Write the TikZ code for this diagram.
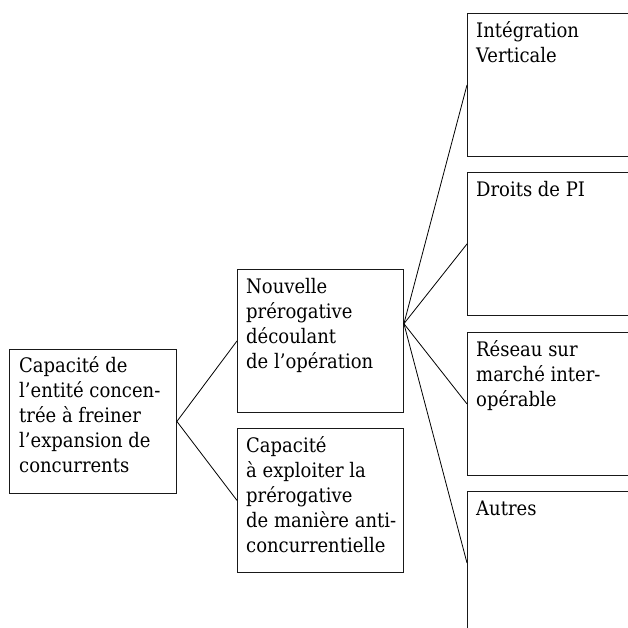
\documentclass[tikz,border=0pt]{standalone}
\usepackage{fontspec}
\setmainfont{DejaVu Serif Condensed}
\usetikzlibrary{calc}
\tikzset{
  box/.style={draw=black!90, line width=0.9pt, rectangle, inner sep=0pt, anchor=north west},
  label/.style={anchor=north west, inner sep=0pt, align=left,
    font=\fontsize{20}{25}\selectfont},
  link/.style={line width=0.8pt, black},
}
\newcommand{\firstline}{\rule{0pt}{18pt}}
\begin{document}
\begin{tikzpicture}[x=1pt,y=-1pt]
  \useasboundingbox (0,0) rectangle (628,628);
  \clip (0,0) rectangle (628,628);
  % boxes
  \node[box, minimum width=167pt, minimum height=144pt] (root) at (9,349) {};
  \node[box, minimum width=166pt, minimum height=143pt] (mtop) at (237,269) {};
  \node[box, minimum width=166pt, minimum height=144pt] (mbot) at (237,428) {};
  \node[box, minimum width=180pt, minimum height=143pt] (r1) at (467,13) {};
  \node[box, minimum width=180pt, minimum height=143pt] (r2) at (467,172) {};
  \node[box, minimum width=180pt, minimum height=143pt] (r3) at (467,332) {};
  \node[box, minimum width=180pt, minimum height=143pt] (r4) at (467,491) {};
  % texts
  \node[label] (troot) at ($(root.north west)+(10,5)$) {\firstline Capacité de\\l’entité concen-\\trée à freiner\\l’expansion de\\concurrents};
  \node[label] (tmtop) at ($(mtop.north west)+(9,6)$) {\firstline Nouvelle\\prérogative\\découlant\\de l’opération};
  \node[label] (tmbot) at ($(mbot.north west)+(9,6)$) {\firstline Capacité\\à exploiter la\\prérogative\\de manière anti-\\concurrentielle};
  \node[label] (tr1) at ($(r1.north west)+(9,6)$) {\firstline Intégration\\Verticale};
  \node[label] (tr2) at ($(r2.north west)+(9,6)$) {\firstline Droits de PI};
  \node[label] (tr3) at ($(r3.north west)+(9,6)$) {\firstline Réseau sur\\marché inter-\\opérable};
  \node[label] (tr4) at ($(r4.north west)+(9,6)$) {\firstline Autres};
  % connectors
  \coordinate (fan) at ($(mtop.north east)!0.38!(mtop.south east)$);
  \draw[link] (mtop.west) -- (root.east) -- (mbot.west);
  \foreach \r in {r1,r2,r3,r4} \draw[link] (fan) -- (\r.west);
\end{tikzpicture}
\end{document}
